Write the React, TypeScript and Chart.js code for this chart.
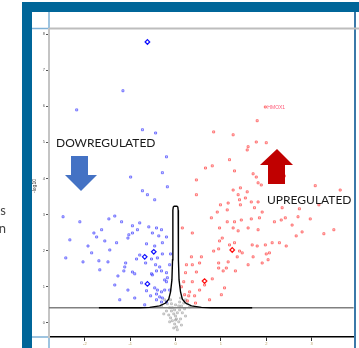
import React, { useEffect, useRef } from "react";
import { Chart, registerables } from "chart.js";
Chart.register(...registerables);

// axis ticks (log2 fold change, -log10 p)
const xTicks = [-2, -1, 0, 1, 2, 3];
const yTicks = [0, 1, 2, 3, 4, 5, 6, 7, 8];
const xRange = [-2.79, 3.93];
const yRange = [-0.39, 8.14];
const thresholdY = 0.42;

// downregulated genes [log2FC, -log10 p]
const downPoints: [number, number][] = [
  [-1.16, 6.43], [-2.18, 5.9], [-0.73, 5.35], [-0.44, 5.26], [-0.2, 4.6], [-0.29, 4.16],
  [-0.99, 4.04], [-0.18, 3.77], [-0.73, 3.66], [-0.62, 3.55], [-0.46, 3.41], [-2.48, 2.94],
  [-2.11, 2.8], [-1.47, 2.88], [-1.34, 2.96], [-1.19, 2.8], [-0.79, 2.77], [-0.95, 2.69],
  [-0.59, 2.66], [-0.42, 2.63], [-0.31, 2.58], [-1.63, 2.58], [-1.8, 2.49], [-1.74, 2.38],
  [-1.03, 2.44], [-0.95, 2.49], [-0.84, 2.58], [-0.51, 2.49], [-0.37, 2.41], [-1.05, 2.35],
  [-0.2, 2.38], [-1.56, 2.27], [-1.3, 2.22], [-0.64, 2.19], [-0.46, 2.13], [-0.29, 2.22],
  [-1.85, 1.94], [-0.79, 1.88], [-0.29, 1.91], [-0.11, 1.91], [-0.86, 1.77],
  [-0.53, 1.77], [-0.4, 1.8], [-2.04, 1.69], [-1.69, 1.72], [-1.1, 1.66], [-0.66, 1.66],
  [-0.44, 1.61], [-0.35, 1.55], [-1.12, 1.55], [-1.14, 1.44], [-0.95, 1.41], [-0.9, 1.36],
  [-0.53, 1.36], [-0.42, 1.44], [-0.31, 1.44], [-0.2, 1.39], [-0.51, 1.33], [-0.75, 1.11],
  [-0.2, 1.14], [-0.18, 1.25], [-0.64, 0.89], [-0.46, 0.97], [-0.4, 0.91], [-0.31, 0.86],
  [-0.42, 0.8], [-0.24, 0.91], [-0.55, 0.75], [-0.35, 0.72], [-0.29, 0.69], [-0.42, 0.64],
  [-0.2, 0.58], [-0.31, 0.58], [-2.33, 2.3], [-1.93, 2.13], [-2.42, 1.8], [-1.45, 2.02],
  [-1.67, 1.47], [-1.34, 1.05], [-1.05, 0.91], [-0.9, 0.69], [-1.23, 0.64], [-0.68, 0.5],
  [-1.49, 1.69], [-1.27, 1.3], [-0.13, 1.61], [-0.24, 1.19], [-0.13, 0.91],
];
const downHighlight: [number, number][] = [
  [-0.62, 7.78], [-0.62, 1.08], [-0.68, 1.83], [-0.48, 1.97],
];

// upregulated genes [log2FC, -log10 p]
const upPoints: [number, number][] = [
  [1.8, 5.6], [1.27, 5.21], [1.78, 5.01], [2.0, 4.99], [1.6, 4.88], [1.58, 4.79],
  [0.81, 4.35], [1.3, 4.21], [1.71, 4.13], [1.78, 4.04], [0.46, 3.96], [1.82, 3.88],
  [1.89, 3.82], [3.08, 3.8], [1.27, 3.68], [1.43, 3.74], [1.58, 3.63], [3.63, 3.68],
  [0.46, 3.55], [1.38, 3.55], [1.54, 3.46], [1.67, 3.35], [1.82, 3.35], [1.41, 3.41],
  [0.99, 3.27], [1.16, 3.32], [1.43, 3.27], [1.14, 3.13], [1.74, 3.19], [0.92, 3.07],
  [1.91, 3.07], [2.35, 3.19], [2.73, 3.16], [0.79, 2.91], [1.14, 2.8], [1.3, 2.8],
  [1.45, 2.85], [1.67, 2.88], [1.85, 2.91], [2.18, 2.8], [2.33, 2.85], [2.42, 2.91],
  [2.7, 2.94], [2.97, 2.88], [0.15, 2.63], [0.37, 2.49], [0.97, 2.63], [1.27, 2.63],
  [1.38, 2.55], [1.6, 2.63], [1.82, 2.58], [2.57, 2.71], [2.79, 2.52], [3.27, 2.47],
  [2.66, 2.41], [1.03, 2.35], [0.97, 2.27], [1.19, 2.16], [1.3, 2.22],
  [1.69, 2.16], [1.8, 2.13], [1.98, 2.16], [2.13, 2.22], [2.29, 2.22], [2.44, 2.13],
  [0.84, 1.99], [0.95, 2.05], [1.41, 1.99], [1.47, 1.94], [2.07, 1.94], [2.0, 1.91],
  [0.35, 1.83], [0.57, 1.83], [1.36, 1.83], [1.71, 1.83], [1.91, 1.66], [2.04, 1.75],
  [0.24, 1.61], [0.37, 1.61], [0.53, 1.66], [0.95, 1.66], [1.16, 1.69], [1.6, 1.61],
  [0.95, 1.52], [1.12, 1.52], [1.32, 1.44], [1.05, 1.44], [0.22, 1.39], [0.46, 1.41],
  [0.81, 1.22], [0.37, 1.14], [0.13, 1.0], [0.64, 1.05], [1.08, 0.97], [0.2, 0.78],
  [0.29, 0.75], [0.42, 0.75], [0.26, 0.61], [0.84, 5.29], [0.66, 4.29], [1.19, 4.52],
  [2.4, 4.07], [3.16, 3.27], [3.49, 2.58], [0.75, 0.64], [0.53, 0.91], [1.01, 0.78],
  [0.18, 1.14], [0.31, 0.86], [0.44, 0.55],
];
const upHighlight: [number, number][] = [
  [0.64, 1.16], [1.25, 2.02],
];
const labelledGene: [number, number] = [1.98, 5.98];
const labelledGeneName = "HMOX1";

// not significant genes
const nsPoints: [number, number][] = [
  [-0.24, 0.64], [-0.18, 0.53], [-0.13, 0.42], [-0.09, 0.33], [-0.04, 0.25], [0, 0.19],
  [0.04, 0.28], [0.09, 0.36], [0.13, 0.47], [0.18, 0.55], [0.22, 0.64], [-0.11, 0.14],
  [-0.07, 0.06], [-0.02, -0.03], [0.02, -0.11], [0.07, 0.03], [0.11, 0.11], [0, 0.08],
  [-0.04, -0.14], [0.04, -0.19], [-0.15, 0.22], [0.15, 0.28], [0.2, 0.39], [-0.2, 0.33],
  [0.26, 0.53], [-0.31, 0.47], [0.31, 0.44], [-0.02, 0.36], [-0.09, 0.53], [0.09, 0.58],
  [0, 0.5], [-0.26, 0.25], [0.22, 0.19], [-0.13, 0.03], [0.13, -0.06], [0.02, 0.11],
  [-0.07, 0.42], [0.07, 0.47], [-0.11, 0.64], [0.11, 0.69],
];

// significance threshold curve
const curvePoints: [number, number][] = [
  [-1.69, 0.42], [-0.79, 0.42], [-0.57, 0.43], [-0.35, 0.47], [-0.22, 0.55], [-0.15, 0.66],
  [-0.11, 0.86], [-0.08, 1.19], [-0.066, 1.75], [-0.06, 2.58], [-0.058, 3.12], [-0.05, 3.21],
  [-0.03, 3.23], [0.03, 3.23], [0.05, 3.21], [0.058, 3.12], [0.06, 2.58], [0.066, 1.75],
  [0.077, 1.19], [0.11, 0.86], [0.15, 0.66], [0.22, 0.55], [0.35, 0.47], [0.57, 0.43],
  [0.79, 0.42], [1.69, 0.42],
];

const toXY = (arr: [number, number][]) => arr.map(([x, y]) => ({ x, y }));

const decor = {
  id: "decor",
  beforeDraw(chart: any) {
    const ctx = chart.ctx;
    const { left, top, bottom } = chart.chartArea;
    ctx.save();
    ctx.fillStyle = "#ffffff";
    ctx.fillRect(0, 0, chart.width, chart.height);
    // cropped side text
    ctx.fillStyle = "#444";
    ctx.font = "13px Lato";
    ctx.textAlign = "right";
    ctx.textBaseline = "alphabetic";
    ctx.fillText("genes", 6, 215);
    ctx.fillText("down", 6, 233);
    // frame
    ctx.fillStyle = "#006699";
    ctx.fillRect(22, 2, 10, chart.height - 2);
    ctx.fillRect(22, 2, chart.width - 22, 10);
    ctx.fillStyle = "#3b79a9";
    ctx.fillRect(354, 12, 2, chart.height - 12);
    // light blue cell lines
    ctx.strokeStyle = "#7fb1d6";
    ctx.lineWidth = 1.5;
    ctx.beginPath();
    ctx.moveTo(32, top - 0.5);
    ctx.lineTo(left, top - 0.5);
    ctx.moveTo(left, 12);
    ctx.lineTo(left, top);
    ctx.moveTo(32, bottom);
    ctx.lineTo(left, bottom);
    ctx.moveTo(left, bottom);
    ctx.lineTo(left, chart.height);
    ctx.stroke();
    ctx.restore();
  },
  afterDraw(chart: any) {
    const ctx = chart.ctx;
    const { left, top } = chart.chartArea;
    const xs = chart.scales.x;
    const ys = chart.scales.y;
    ctx.save();
    // top border
    ctx.strokeStyle = "#bdbdbd";
    ctx.lineWidth = 2;
    ctx.beginPath();
    ctx.moveTo(left, top - 0.5);
    ctx.lineTo(chart.width, top - 0.5);
    ctx.stroke();
    // y axis title
    ctx.save();
    ctx.translate(35, 186);
    ctx.rotate(-Math.PI / 2);
    ctx.fillStyle = "#333";
    ctx.font = "5px 'Liberation Sans'";
    ctx.textAlign = "center";
    ctx.textBaseline = "middle";
    ctx.fillText("-log10", 0, 0);
    ctx.restore();
    // labelled gene
    ctx.fillStyle = "#ff5a78";
    ctx.font = "5px 'Liberation Sans'";
    ctx.textAlign = "left";
    ctx.textBaseline = "middle";
    ctx.fillText(labelledGeneName, xs.getPixelForValue(labelledGene[0]) + 2, ys.getPixelForValue(labelledGene[1]) + 1);
    // arrows
    ctx.fillStyle = "#4472c4";
    ctx.beginPath();
    ctx.moveTo(71, 156); ctx.lineTo(88, 156); ctx.lineTo(88, 175); ctx.lineTo(97, 175);
    ctx.lineTo(81, 191); ctx.lineTo(65, 175); ctx.lineTo(71, 175); ctx.closePath();
    ctx.fill();
    ctx.fillStyle = "#c00000";
    ctx.beginPath();
    ctx.moveTo(277, 149); ctx.lineTo(293, 165); ctx.lineTo(285, 165); ctx.lineTo(285, 184);
    ctx.lineTo(268, 184); ctx.lineTo(268, 165); ctx.lineTo(260, 165); ctx.closePath();
    ctx.fill();
    // labels
    ctx.fillStyle = "#1a1a1a";
    ctx.font = "12px Lato";
    ctx.textAlign = "left";
    ctx.textBaseline = "alphabetic";
    ctx.fillText("DOWREGULATED", 56, 147);
    ctx.fillText("UPREGULATED", 267, 204);
    ctx.restore();
  },
};

export default function App() {
  const ref = useRef<HTMLCanvasElement | null>(null);
  useEffect(() => {
    if (!ref.current) return;
    const chart = new Chart(ref.current, {
      type: "scatter",
      data: {
        datasets: [
          {
            label: "threshold",
            data: toXY(curvePoints),
            showLine: true,
            borderColor: "#000",
            borderWidth: 1.4,
            pointRadius: 0,
            tension: 0,
          } as any,
          {
            label: "cutoff",
            data: [{ x: xRange[0], y: thresholdY }, { x: xRange[1], y: thresholdY }],
            showLine: true,
            borderColor: "#808080",
            borderWidth: 1.4,
            pointRadius: 0,
          } as any,
          {
            label: "down-hi",
            data: toXY(downHighlight),
            pointStyle: "rectRot",
            pointRadius: 2.3,
            borderWidth: 1.2,
            borderColor: "#1010ff",
            backgroundColor: "#ffffff",
          },
          {
            label: "up-hi",
            data: toXY(upHighlight),
            pointStyle: "rectRot",
            pointRadius: 2.3,
            borderWidth: 1.2,
            borderColor: "#ff1010",
            backgroundColor: "#ffffff",
          },
          {
            label: "down",
            data: toXY(downPoints),
            pointStyle: "rect",
            pointRadius: 1.4,
            borderWidth: 1,
            borderColor: "rgba(60,60,255,0.65)",
            backgroundColor: "rgba(170,170,255,0.3)",
          },
          {
            label: "up",
            data: toXY([...upPoints, labelledGene]),
            pointStyle: "rect",
            pointRadius: 1.4,
            borderWidth: 1,
            borderColor: "rgba(255,60,60,0.65)",
            backgroundColor: "rgba(255,170,170,0.3)",
          },
          {
            label: "ns",
            data: toXY(nsPoints),
            pointStyle: "rect",
            pointRadius: 1.3,
            borderWidth: 1,
            borderColor: "rgba(150,150,150,0.55)",
            backgroundColor: "rgba(200,200,200,0.3)",
          },
        ],
      },
      options: {
        animation: false,
        responsive: false,
        devicePixelRatio: 1,
        layout: { padding: { left: 33, top: 29, right: 4, bottom: 0 } },
        plugins: { legend: { display: false }, tooltip: { enabled: false } },
        scales: {
          x: {
            type: "linear",
            min: xRange[0],
            max: xRange[1],
            afterBuildTicks: (s: any) => { s.ticks = xTicks.map((v) => ({ value: v })); },
            afterFit: (s: any) => { s.height = 11; },
            grid: { display: true, drawOnChartArea: false, drawTicks: true, tickLength: 4, color: "#333", lineWidth: 1 },
            border: { display: true, color: "#000", width: 1.5 },
            ticks: { font: { size: 4, family: "Liberation Sans" }, color: "#b8a060", padding: 0, maxRotation: 0, autoSkip: false },
          },
          y: {
            type: "linear",
            min: yRange[0],
            max: yRange[1],
            afterBuildTicks: (s: any) => { s.ticks = yTicks.map((v) => ({ value: v })); },
            afterFit: (s: any) => { s.width = 16; },
            grid: { display: true, drawOnChartArea: false, drawTicks: true, tickLength: 3, color: "#555", lineWidth: 1 },
            border: { display: true, color: "#c4c4c4", width: 2 },
            ticks: { font: { size: 4, family: "Liberation Sans" }, color: "#555", padding: 1, autoSkip: false },
          },
        },
      },
      plugins: [decor],
    });
    return () => chart.destroy();
  }, []);
  return (
    <div style={{ position: "absolute", left: 0, top: 0, width: 359, height: 348 }}>
      <canvas ref={ref} width={359} height={348} style={{ width: 359, height: 348, display: "block" }} />
    </div>
  );
}
